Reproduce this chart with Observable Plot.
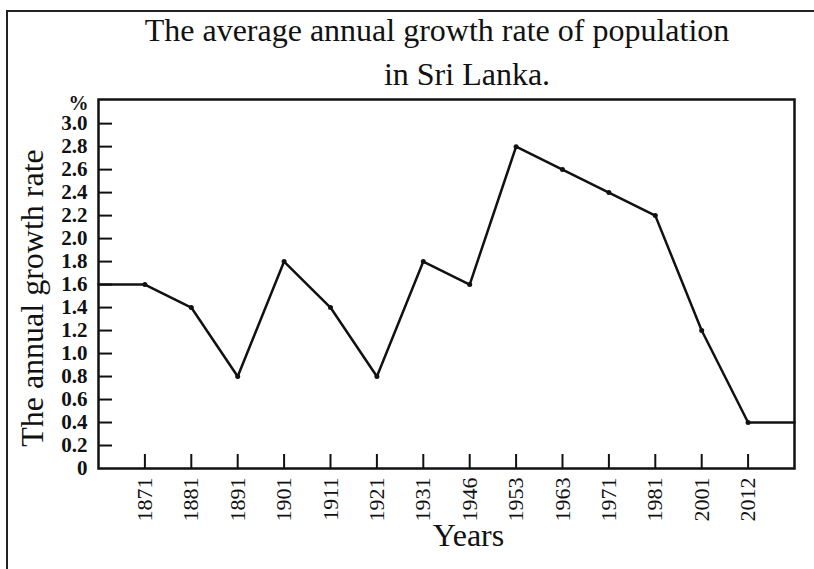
<!DOCTYPE html>
<html><head><meta charset="utf-8">
<script src="https://cdn.jsdelivr.net/npm/d3@7"></script>
<script src="https://cdn.jsdelivr.net/npm/@observablehq/plot@0.6"></script>
<style>
html,body{margin:0;padding:0;background:#fff;}
#wrap{position:relative;width:814px;height:569px;overflow:hidden;background:#fff;font-family:"Liberation Serif","Times New Roman",serif;}
#border{position:absolute;left:6px;top:10px;width:820px;height:580px;border-left:2px solid #222;border-top:2px solid #222;}
.t{position:absolute;font-size:32px;color:#111;white-space:nowrap;line-height:1;transform:translateX(-50%);}
#chart{position:absolute;left:0;top:0;}
</style></head><body>
<div id="wrap"><div id="border"></div><div id="chart"></div>
<div class="t" id="t1" style="left:437px;top:14px">The average annual growth rate of population</div>
<div class="t" id="t2" style="left:467px;top:58px">in Sri Lanka.</div></div>
<script>
const years = ["1871","1881","1891","1901","1911","1921","1931","1946","1953","1963","1971","1981","2001","2012"];
const rates = [1.6, 1.4, 0.8, 1.8, 1.4, 0.8, 1.8, 1.6, 2.8, 2.6, 2.4, 2.2, 1.2, 0.4];
const startRate = 1.6;   // line continues to the left frame edge
const endRate = 0.4;     // line continues to the right frame edge
const yTickValues = [0, 0.2, 0.4, 0.6, 0.8, 1.0, 1.2, 1.4, 1.6, 1.8, 2.0, 2.2, 2.4, 2.6, 2.8, 3.0];

const W = 814, H = 569, mL = 98, mR = 20, mT = 99, mB = 101;
const plotW = W - mL - mR, plotH = H - mT - mB;
const idx = years.map((_, k) => k + 1);
const pts = [{i: 0, v: startRate}, ...years.map((y, k) => ({i: k + 1, v: rates[k]})), {i: years.length + 1, v: endRate}];
const ink = "#111";

const chart = Plot.plot({
  width: W, height: H,
  marginLeft: mL, marginRight: mR, marginTop: mT, marginBottom: mB,
  x: {type: "linear", domain: [0, years.length + 1]},
  y: {domain: [0, 3.21]},
  style: {fontFamily: "'Liberation Serif','Times New Roman',serif", color: ink, background: "transparent", overflow: "visible"},
  marks: [
    Plot.tickY(yTickValues.filter(d => d > 0), {y: d => d, insetRight: plotW - 14, stroke: ink, strokeWidth: 2}),
    Plot.tickX(idx, {x: d => d, insetTop: plotH - 14, stroke: ink, strokeWidth: 2}),
    Plot.axisY({ticks: yTickValues, tickSize: 0, tickPadding: 11, tickFormat: d => d === 0 ? "0" : d.toFixed(1), fontSize: 21, fontWeight: "bold", label: null}),
    Plot.axisX({ticks: idx, tickSize: 0, tickPadding: 9, tickRotate: -90, tickFormat: i => years[i - 1], fontSize: 22, label: null}),
    Plot.line(pts, {x: "i", y: "v", stroke: ink, strokeWidth: 2.5}),
    Plot.dot(pts.slice(1, -1), {x: "i", y: "v", r: 2.5, fill: ink}),
    Plot.frame({stroke: ink, strokeWidth: 2.5}),
    Plot.text(["%"], {frameAnchor: "top-left", textAnchor: "end", dx: -10, dy: -4, fontSize: 20, fontWeight: "bold"}),
    Plot.text(["The annual growth rate"], {frameAnchor: "left", textAnchor: "middle", rotate: -90, dx: -66, dy: 14, fontSize: 32}),
    Plot.text(["Years"], {frameAnchor: "bottom", dx: 22, dy: 77, fontSize: 32})
  ]
});
document.getElementById("chart").appendChild(chart);
</script>
</body></html>
